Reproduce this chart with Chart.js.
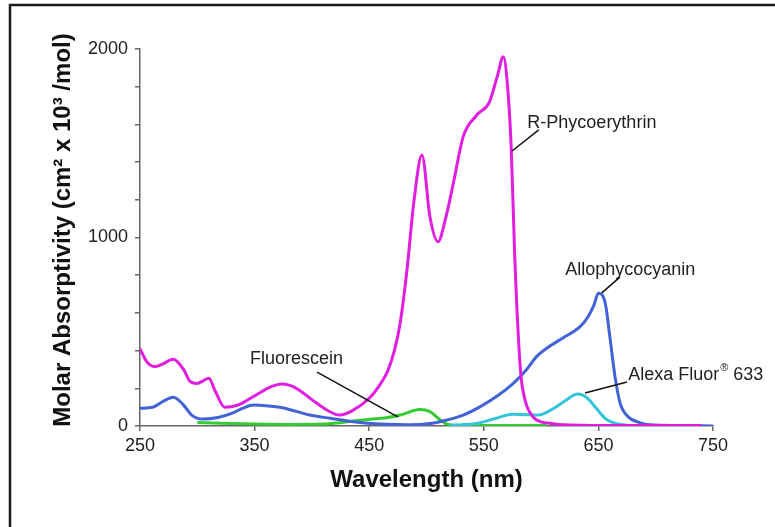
<!DOCTYPE html>
<html>
<head>
<meta charset="utf-8">
<script src="https://cdn.jsdelivr.net/npm/chart.js@4"></script>
<style>
html,body{margin:0;padding:0;background:#fff;}
canvas{display:block;}
</style>
</head>
<body>
<canvas id="c" width="775" height="527"></canvas>
<script>
// ---- data ----
const xTicks = [250, 350, 450, 550, 650, 750];
const yTicks = [0, 200, 400, 600, 800, 1000, 1200, 1400, 1600, 1800, 2000];
const yLabelled = [0, 1000, 2000];
const xTitle = 'Wavelength (nm)';
const yTitle = 'Molar Absorptivity (cm² x 10³ /mol)';

const phycoName = 'R-Phycoerythrin';
const phycoWl  = [250,256,263,270,279,288,294,300,305,310,316,324,335,350,365,374,385,400,413,424,435,450,460,466,472,477,483,489,496,503,510,517,524,532,544,555,562,567,571,574,577,582,586,593,600,608,620,650,700,740];
const phycoVal = [410,340,315,330,354,300,235,226,240,253,180,99,110,160,210,223,205,140,85,58,80,147,225,290,400,545,830,1190,1438,1110,978,1110,1305,1535,1650,1720,1860,1959,1782,1464,898,297,138,49,22,14,6,3,2,2];

const apcName = 'Allophycocyanin';
const apcWl  = [250,261,270,279,288,295,305,318,330,340,349,360,372,385,398,416,436,460,485,505,518,532,547,561,576,587,596,605,619,634,641,646,650,656,660,664.5,669,676,686,695,720,750];
const apcVal = [94,99,130,152,111,58,37,45,67,95,111,108,99,80,58,41,23,10,6,15,32,58,103,156,228,297,368,413,467,527,580,640,704,651,474,262,120,49,18,6,2,0];

const fluName = 'Fluorescein';
const fluWl  = [300,320,350,380,410,436,450,465,477,487,494,503,512,518,530,560,605];
const fluVal = [18,14,10,8,10,26,35,44,58,78,88,76,32,10,4,2,2];

const alexaName = 'Alexa Fluor 633';
const alexaWl  = [520,545,560,575,585,598,610,620,632,640,648,657,666,680,720];
const alexaVal = [3,15,40,62,60,58,90,130,170,150,95,35,12,3,0];

// ---- annotation labels (data units) ----
const notes = [
  {text: 'R-Phycoerythrin', x: 588, y: 1609, from: [598, 1571], to: [574.6, 1459]},
  {text: 'Fluorescein',     x: 346, y: 355,  from: [404.5, 286], to: [475, 48]},
  {text: 'Allophycocyanin', x: 621, y: 828,  from: [668.8, 790], to: [653, 706]},
  {text: 'Alexa Fluor', sup: '®', tail: ' 633', x: 676, y: 271, from: [675, 233], to: [638.3, 175]}
];

const pts = (xs, ys) => xs.map((x, i) => ({x: x, y: ys[i]}));
const FONT = '"Liberation Sans", Arial, Helvetica, sans-serif';

const framePlugin = {
  id: 'frame',
  beforeDraw(chart) {
    const ctx = chart.ctx;
    ctx.save();
    ctx.fillStyle = '#fff';
    ctx.fillRect(0, 0, chart.width, chart.height);
    ctx.strokeStyle = '#1a1a1a';
    ctx.lineWidth = 2.5;
    ctx.beginPath();
    ctx.moveTo(10, chart.height + 5);
    ctx.lineTo(10, 5);
    ctx.lineTo(chart.width + 5, 5);
    ctx.stroke();
    ctx.restore();
  }
};

const notePlugin = {
  id: 'notes',
  afterDatasetsDraw(chart) {
    const ctx = chart.ctx;
    const xs = chart.scales.x, ys = chart.scales.y;
    ctx.save();
    // y-axis title, rotated
    ctx.save();
    ctx.translate(63, 230);
    ctx.rotate(-Math.PI / 2);
    ctx.font = 'bold 24px ' + FONT;
    ctx.fillStyle = '#111';
    ctx.textAlign = 'center';
    ctx.textBaseline = 'middle';
    ctx.fillText(yTitle, 0, 0);
    ctx.restore();

    ctx.strokeStyle = '#111';
    ctx.lineWidth = 1.5;
    ctx.fillStyle = '#222';
    ctx.textBaseline = 'middle';
    ctx.textAlign = 'left';
    notes.forEach(n => {
      ctx.beginPath();
      ctx.moveTo(xs.getPixelForValue(n.from[0]), ys.getPixelForValue(n.from[1]));
      ctx.lineTo(xs.getPixelForValue(n.to[0]), ys.getPixelForValue(n.to[1]));
      ctx.stroke();
      let px = xs.getPixelForValue(n.x), py = ys.getPixelForValue(n.y);
      ctx.font = '18px ' + FONT;
      ctx.fillText(n.text, px, py);
      if (n.sup) {
        px += ctx.measureText(n.text).width + 1;
        ctx.font = '11px ' + FONT;
        ctx.fillText(n.sup, px, py - 7);
        px += ctx.measureText(n.sup).width;
        ctx.font = '18px ' + FONT;
        ctx.fillText(n.tail, px, py);
      }
    });
    ctx.restore();
  }
};

const lineDs = (label, data, color) => ({
  label: label,
  data: data,
  borderColor: color,
  backgroundColor: color,
  borderWidth: 3,
  pointRadius: 0,
  fill: false,
  cubicInterpolationMode: 'monotone'
});

new Chart(document.getElementById('c'), {
  type: 'line',
  data: {
    datasets: [
      lineDs(phycoName, pts(phycoWl, phycoVal), '#e01ee0'),
      lineDs(apcName, pts(apcWl, apcVal), '#4262d8'),
      lineDs(alexaName, pts(alexaWl, alexaVal), '#33c4dc'),
      lineDs(fluName, pts(fluWl, fluVal), '#33cc33')
    ]
  },
  options: {
    responsive: false,
    animation: false,
    layout: {padding: {left: 0, top: 49, right: 62, bottom: 0}},
    plugins: {legend: {display: false}, tooltip: {enabled: false}},
    scales: {
      x: {
        type: 'linear',
        min: 250, max: 750,
        afterBuildTicks: s => { s.ticks = xTicks.map(v => ({value: v})); },
        afterFit: s => { s.height = 101; },
        ticks: {color: '#222', padding: 4, font: {size: 18, family: FONT}, maxRotation: 0},
        grid: {drawOnChartArea: false, tickLength: 5, color: '#666', lineWidth: 1.5},
        border: {color: '#666', width: 1.5},
        title: {display: true, text: xTitle, color: '#111',
                font: {size: 24, weight: 'bold', family: FONT}, padding: {top: 0, bottom: 32}}
      },
      y: {
        type: 'linear',
        min: 0, max: 2000,
        afterBuildTicks: s => { s.ticks = yTicks.map(v => ({value: v})); },
        afterFit: s => { s.width = 140; },
        ticks: {color: '#222', padding: 7, font: {size: 18, family: FONT},
                callback: v => yLabelled.includes(v) ? String(v) : ''},
        grid: {drawOnChartArea: false, tickLength: 5, color: '#666', lineWidth: 1.5},
        border: {color: '#666', width: 1.5},
        title: {display: false}
      }
    }
  },
  plugins: [framePlugin, notePlugin]
});
</script>
</body>
</html>
